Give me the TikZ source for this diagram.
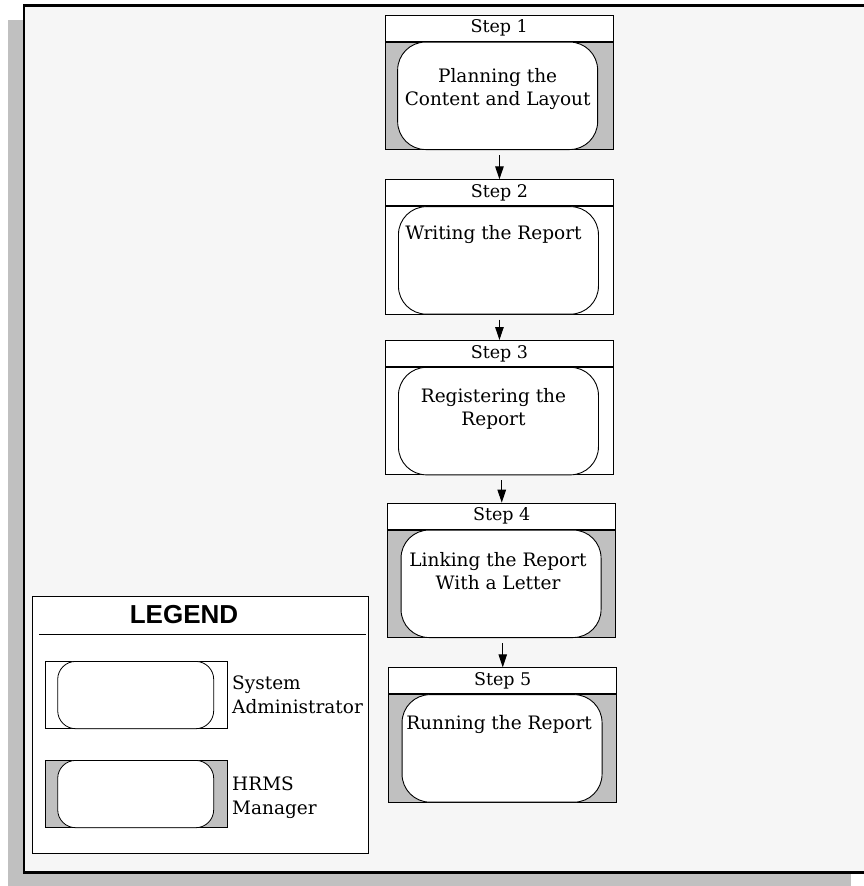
\documentclass[tikz,border=0pt]{standalone}
\usepackage{fontspec}
\setmainfont{DejaVu Serif}
\newfontfamily\legendfont{Liberation Sans}
\usetikzlibrary{arrows.meta,calc}

\definecolor{panelbg}{HTML}{F6F6F6}
\definecolor{boxgray}{HTML}{C0C0C0}

\begin{document}
\begin{tikzpicture}[x=1pt,y=-1pt,
  head/.style={draw=black, line width=0.9pt, fill=white, anchor=north west,
    minimum width=228pt, minimum height=26pt, inner sep=0pt,
    font=\fontsize{17.5}{20}\selectfont},
  body/.style={draw=black, line width=0.9pt, anchor=north west,
    minimum width=228pt, minimum height=107.5pt, inner sep=0pt},
  pill/.style={draw=black, line width=0.9pt, fill=white, anchor=north west,
    minimum width=200pt, minimum height=107.5pt, inner sep=0pt,
    rounded corners=28pt},
  steptext/.style={align=center, inner sep=0pt,
    font=\fontsize{18.5}{23}\selectfont},
  flow/.style={line width=1pt, shorten <=5pt,
    -{Triangle[length=13pt,width=8.5pt]}},
  legendbox/.style={draw=black, line width=0.8pt, fill=white, anchor=north west,
    minimum width=336pt, minimum height=256.7pt, inner sep=0pt},
  keybox/.style={draw=black, line width=0.8pt, anchor=north west,
    minimum width=181.7pt, minimum height=67.3pt, inner sep=0pt},
  keypill/.style={draw=black, line width=0.8pt, fill=white, anchor=north west,
    minimum width=156pt, minimum height=67.3pt, inner sep=0pt,
    rounded corners=18pt},
  keytext/.style={align=left, anchor=west, inner sep=0pt,
    font=\fontsize{18.5}{24}\selectfont}
]
\useasboundingbox (0,0) rectangle (863,886);

% drop shadow and framed panel
\fill[boxgray] (8,20) rectangle (851,890);
\draw[line width=2.7pt, fill=panelbg] (24,5.3) rectangle (868,872.3);

% step 1
\node[head] (h1) at (384.7,14.7) {Step 1};
\node[body, fill=boxgray] (b1) at (h1.south west) {};
\node[pill] (p1) at ($(b1.north west)+(12.5,0)$) {};
\node[steptext] (t1) at ($(p1.north)+(0,47)$) {Planning the\\Content and Layout};

% step 2
\node[head] (h2) at (385,179.3) {Step 2};
\node[body, fill=white] (b2) at (h2.south west) {};
\node[pill] (p2) at ($(b2.north west)+(13,0)$) {};
\node[steptext] (t2) at ($(p2.north)+(-5,28)$) {Writing the Report};

% step 3
\node[head] (h3) at (385,340) {Step 3};
\node[body, fill=white] (b3) at (h3.south west) {};
\node[pill] (p3) at ($(b3.north west)+(13,0)$) {};
\node[steptext] (t3) at ($(p3.north)+(-5,42)$) {Registering the\\Report};

% step 4
\node[head] (h4) at (387.3,502.7) {Step 4};
\node[body, fill=boxgray] (b4) at (h4.south west) {};
\node[pill] (p4) at ($(b4.north west)+(13.3,0)$) {};
\node[steptext] (t4) at ($(p4.north)+(-3,41.5)$) {Linking the Report\\With a Letter};

% step 5
\node[head] (h5) at (388.3,667.3) {Step 5};
\node[body, fill=boxgray] (b5) at (h5.south west) {};
\node[pill] (p5) at ($(b5.north west)+(13.3,0)$) {};
\node[steptext] (t5) at ($(p5.north)+(-3,30)$) {Running the Report};

% connectors
\draw[flow] (b1.south -| h2.north) -- (h2.north);
\draw[flow] (b2.south -| h3.north) -- (h3.north);
\draw[flow] (b3.south -| h4.north) -- (h4.north);
\draw[flow] (b4.south -| h5.north) -- (h5.north);

% legend
\node[legendbox] (leg) at (32.3,596) {};
\node[inner sep=0pt, font=\legendfont\bfseries\fontsize{26}{30}\selectfont]
  (legt) at (184,615) {LEGEND};
\coordinate (rulel) at (39,634);
\coordinate (ruler) at (365.7,634);
\draw[line width=0.8pt] (rulel) -- (ruler);

\node[keybox, fill=white] (k1) at (45,661) {};
\node[keypill] (kp1) at ($(k1.north west)+(12.3,0)$) {};
\node[keytext] (kt1) at (232,694.7) {System\\Administrator};

\node[keybox, fill=boxgray] (k2) at (45,760) {};
\node[keypill] (kp2) at ($(k2.north west)+(12.3,0)$) {};
\node[keytext] (kt2) at (232,797.7) {HRMS\\Manager};
\end{tikzpicture}
\end{document}
